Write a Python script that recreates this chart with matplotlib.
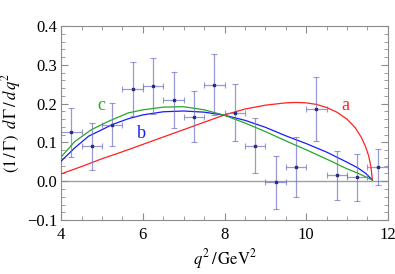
import numpy as np
import matplotlib
matplotlib.use('Agg')
import matplotlib.pyplot as plt
from matplotlib.ticker import MultipleLocator

plt.rcParams['font.family'] = ['Liberation Serif', 'DejaVu Serif']
plt.rcParams['mathtext.fontset'] = 'stix'

# measured points (q^2 bins of 0.5 GeV^2)
q2_data = [4.25, 4.75, 5.25, 5.75, 6.25, 6.75, 7.25, 7.75,
           8.25, 8.75, 9.25, 9.75, 10.25, 10.75, 11.25, 11.75]
rate_data = [0.126, 0.090, 0.146, 0.237, 0.245, 0.209, 0.166, 0.249,
             0.177, 0.092, -0.003, 0.036, 0.186, 0.015, 0.010, 0.036]
rate_err = [0.063, 0.061, 0.056, 0.070, 0.073, 0.072, 0.066, 0.079,
            0.074, 0.071, 0.069, 0.077, 0.083, 0.064, 0.061, 0.047]
q2_halfwidth = 0.25

# curve a (red)
q2_a = [4.0, 4.5, 5.0, 5.5, 6.0, 6.5, 7.0, 7.5, 8.0, 8.5, 9.0, 9.5, 9.75,
        10.0, 10.25, 10.5, 10.75, 11.0, 11.2, 11.35, 11.45, 11.53, 11.58, 11.62]
rate_a = [0.019, 0.038, 0.058, 0.076, 0.095, 0.114, 0.133, 0.152, 0.171,
          0.186, 0.196, 0.202, 0.203, 0.202, 0.198, 0.190, 0.178, 0.160,
          0.138, 0.113, 0.090, 0.065, 0.040, 0.004]

# curve b (blue)
q2_b = [4.0, 4.33, 4.67, 5.0, 5.25, 5.64, 6.0, 6.5, 7.0, 7.5, 8.0, 8.5,
        9.0, 9.5, 10.0, 10.5, 11.0, 11.27, 11.46, 11.62]
rate_b = [0.052, 0.086, 0.116, 0.133, 0.146, 0.161, 0.171, 0.179, 0.181,
          0.178, 0.170, 0.157, 0.139, 0.117, 0.097, 0.075, 0.049, 0.034,
          0.020, 0.003]

# curve c (green)
q2_c = [4.0, 4.33, 4.74, 5.15, 5.64, 6.0, 6.5, 7.0, 7.5, 8.0, 8.5, 9.0,
        9.5, 10.0, 10.5, 11.0, 11.3, 11.62]
rate_c = [0.063, 0.102, 0.133, 0.154, 0.176, 0.184, 0.191, 0.192, 0.184,
          0.170, 0.150, 0.128, 0.104, 0.081, 0.057, 0.032, 0.019, 0.003]

fig = plt.figure(figsize=(3.95, 2.74), dpi=100)
ax = fig.add_axes([0.155, 0.197, 0.827, 0.708])

frame_col = '#8c8c8c'
ax.axhline(0.0, color='#a0a0a0', lw=1.0, zorder=1)

ax.plot(q2_a, rate_a, color='#ff2020', lw=0.9, zorder=3)
ax.plot(q2_b, rate_b, color='#1a1aff', lw=0.9, zorder=3)
ax.plot(q2_c, rate_c, color='#22aa22', lw=0.9, zorder=3)

ax.errorbar(q2_data, rate_data, yerr=rate_err, xerr=q2_halfwidth,
            fmt='none', ecolor='#7070c0', elinewidth=0.9, capsize=2.0,
            capthick=0.8, alpha=0.7, zorder=4)
ax.plot(q2_data, rate_data, 's', ms=1.9, color='#2c2c80', zorder=5)

ax.text(10.97, 0.194, 'a', color='#ff2020', fontsize=13, ha='center', va='center')
ax.text(5.97, 0.123, 'b', color='#1a1aff', fontsize=13, ha='center', va='center')
ax.text(4.98, 0.194, 'c', color='#22aa22', fontsize=13, ha='center', va='center')

ax.set_xlim(4, 12)
ax.set_ylim(-0.1, 0.4)
ax.xaxis.set_major_locator(MultipleLocator(2))
ax.xaxis.set_minor_locator(MultipleLocator(0.5))
ax.yaxis.set_major_locator(MultipleLocator(0.1))
ax.yaxis.set_minor_locator(MultipleLocator(0.02))
ax.yaxis.set_major_formatter(matplotlib.ticker.FuncFormatter(
    lambda v, p: '\u22120.1' if v < -0.05 else f'{v:.1f}'))

for s in ax.spines.values():
    s.set_color(frame_col)
    s.set_linewidth(0.8)
ax.tick_params(which='both', direction='in', top=True, right=True,
               color=frame_col, labelsize=12)
ax.tick_params(which='major', length=5, width=0.8)
ax.tick_params(which='minor', length=2.8, width=0.6)
ax.tick_params(axis='x', pad=5)
ax.tick_params(axis='y', pad=3)

ax.set_xlabel(r'$q^2\,/\,\mathrm{GeV}^2$', fontsize=12, labelpad=3)
ax.set_ylabel(r'$(1\,/\,\Gamma)\;\;d\,\Gamma\,/\,d\,q^2$', fontsize=12, labelpad=3)

fig.savefig('out.png', dpi=100)
